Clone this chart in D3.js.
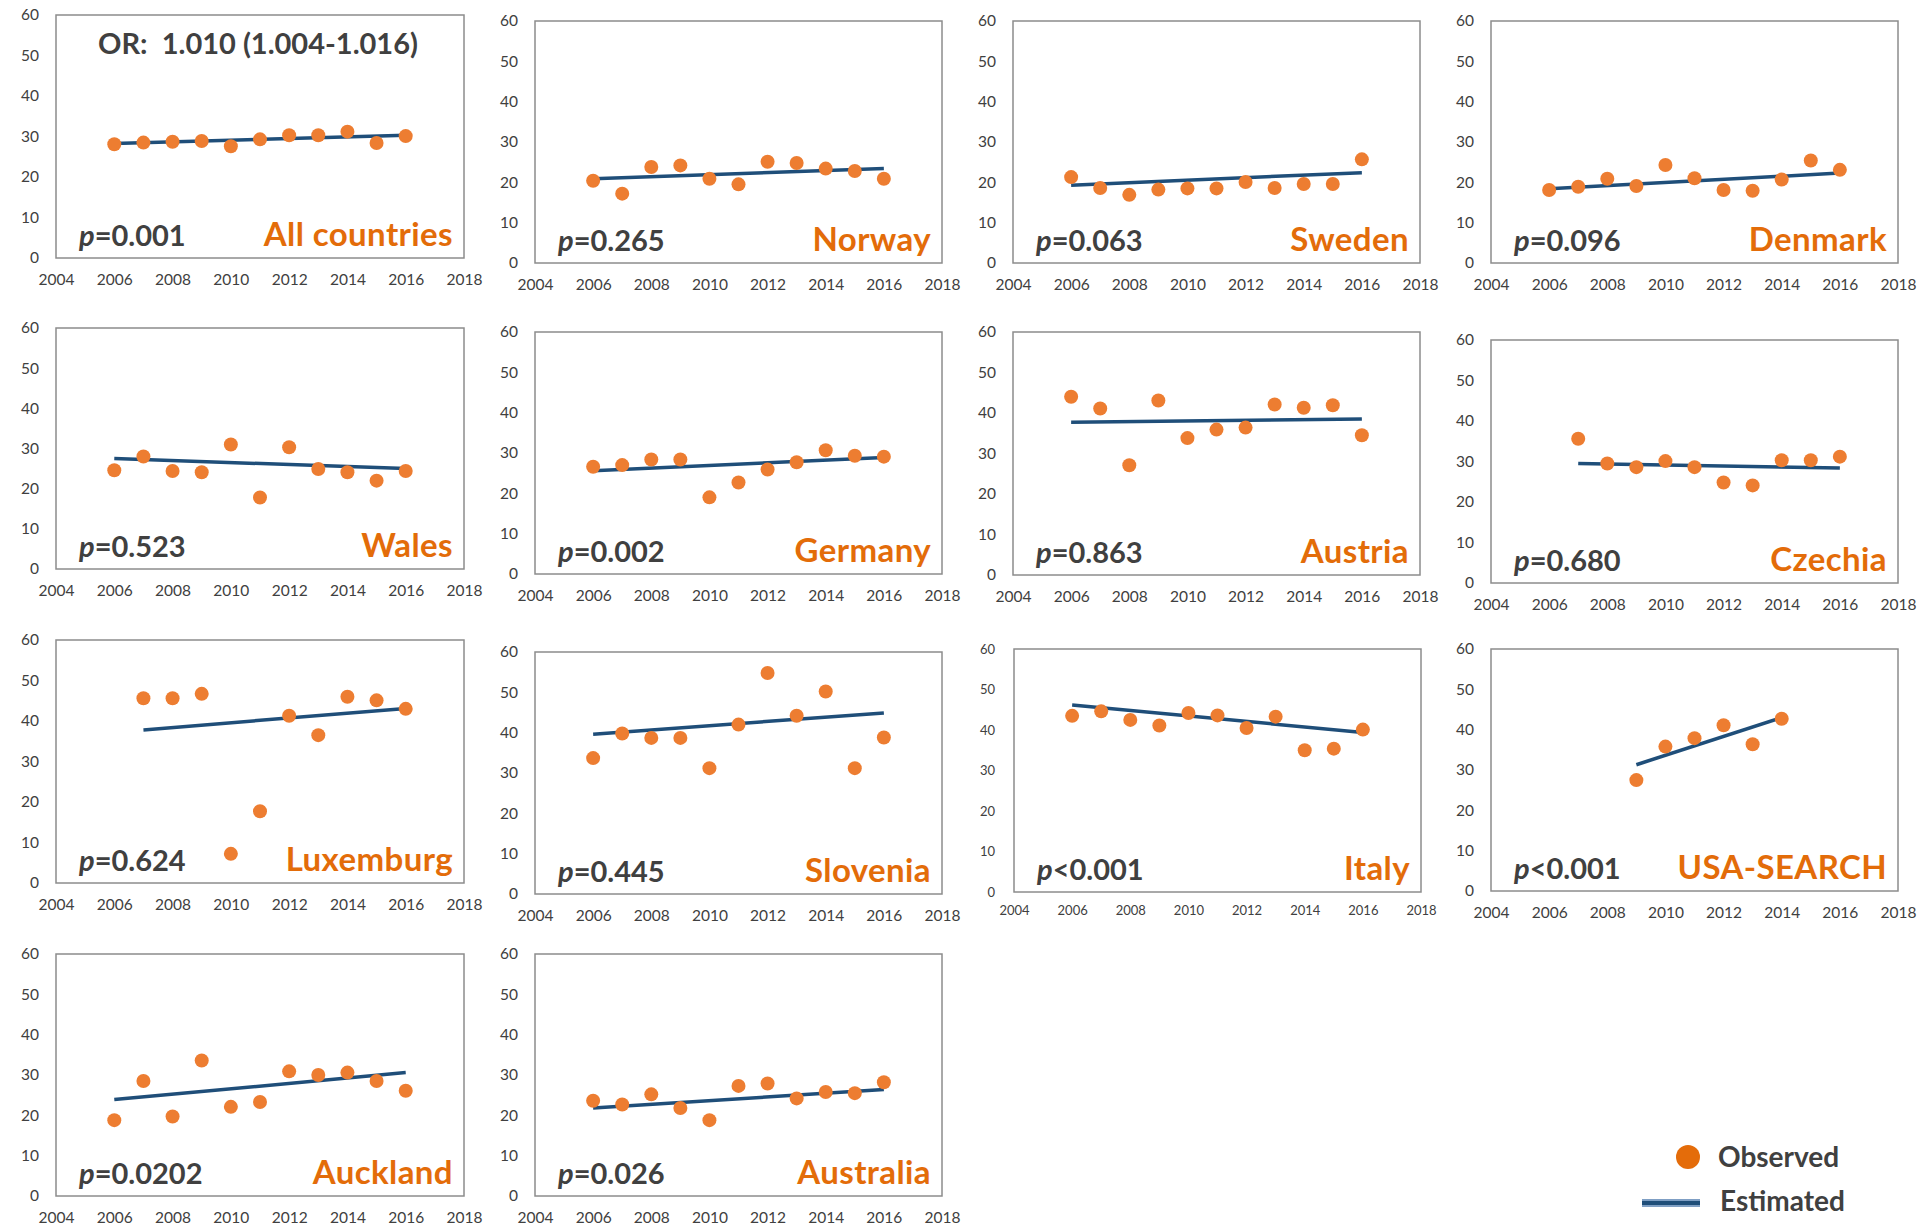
<!DOCTYPE html>
<html>
<head>
<meta charset="utf-8">
<script src="https://cdn.jsdelivr.net/npm/d3@7"></script>
<style>
  body { margin: 0; background: #fff; }
  svg { display: block; font-family: Lato, 'Open Sans', sans-serif; }
</style>
</head>
<body>
<script>
//==============================================================================
// DATA
//==============================================================================

const countries = ['All countries', 'Norway', 'Sweden', 'Denmark', 'Wales', 'Germany', 'Austria',
  'Czechia', 'Luxemburg', 'Slovenia', 'Italy', 'USA-SEARCH', 'Auckland', 'Australia'];
const pSigns = ['=', '=', '=', '=', '=', '=', '=', '=', '=', '=', '<', '<', '=', '='];
const pValues = ['0.001', '0.265', '0.063', '0.096', '0.523', '0.002', '0.863',
  '0.680', '0.624', '0.445', '0.001', '0.001', '0.0202', '0.026'];
const xTicks = [2004, 2006, 2008, 2010, 2012, 2014, 2016, 2018];
const yTicks = [0, 10, 20, 30, 40, 50, 60];

const yearsFull = [2006, 2007, 2008, 2009, 2010, 2011, 2012, 2013, 2014, 2015, 2016];
const yearsFrom2007 = [2007, 2008, 2009, 2010, 2011, 2012, 2013, 2014, 2015, 2016];
const yearsUsa = [2009, 2010, 2011, 2012, 2013, 2014];

// observed values (%)
const obsAll = [28.1, 28.5, 28.7, 28.9, 27.6, 29.3, 30.3, 30.3, 31.2, 28.4, 30.1];
const obsNorway = [20.4, 17.2, 23.8, 24.2, 20.9, 19.5, 25.1, 24.8, 23.4, 22.8, 20.9];
const obsSweden = [21.3, 18.6, 16.9, 18.2, 18.5, 18.5, 20.1, 18.6, 19.6, 19.6, 25.7];
const obsDenmark = [18.1, 18.9, 20.9, 19.1, 24.3, 21.0, 18.1, 17.9, 20.7, 25.4, 23.1];
const obsWales = [24.6, 28.0, 24.4, 24.1, 31.0, 17.8, 30.3, 24.9, 24.1, 22.0, 24.4];
const obsGermany = [26.6, 27.0, 28.4, 28.4, 19.0, 22.7, 25.9, 27.7, 30.7, 29.3, 29.1];
const obsAustria = [44.0, 41.1, 27.1, 43.1, 33.8, 35.9, 36.4, 42.1, 41.3, 41.9, 34.5];
const obsCzechia = [35.6, 29.5, 28.6, 30.1, 28.6, 24.8, 24.1, 30.3, 30.3, 31.2];
const obsLuxemburg = [45.6, 45.6, 46.7, 7.2, 17.7, 41.3, 36.5, 46.0, 45.1, 43.0];
const obsSlovenia = [33.7, 39.8, 38.7, 38.7, 31.2, 42.0, 54.8, 44.2, 50.2, 31.2, 38.8];
const obsItaly = [43.5, 44.6, 42.5, 41.1, 44.2, 43.6, 40.5, 43.3, 35.0, 35.4, 40.1];
const obsUsa = [27.5, 35.8, 37.9, 41.1, 36.4, 42.7];
const obsAuckland = [18.8, 28.5, 19.7, 33.6, 22.1, 23.3, 30.9, 30.0, 30.6, 28.5, 26.1];
const obsAustralia = [23.6, 22.7, 25.2, 21.8, 18.8, 27.3, 27.9, 24.2, 25.8, 25.5, 28.2];

// estimated trend, first and last year (%)
const estAll = [28.3, 30.3];
const estNorway = [20.9, 23.4];
const estSweden = [19.3, 22.4];
const estDenmark = [18.4, 22.3];
const estWales = [27.5, 25.0];
const estGermany = [25.6, 28.9];
const estAustria = [37.7, 38.5];
const estCzechia = [29.5, 28.4];
const estLuxemburg = [37.8, 43.1];
const estSlovenia = [39.6, 44.9];
const estItaly = [46.2, 39.4];
const estUsa = [31.3, 43.0];
const estAuckland = [23.9, 30.6];
const estAustralia = [21.8, 26.4];

const observed = [obsAll, obsNorway, obsSweden, obsDenmark, obsWales, obsGermany, obsAustria,
  obsCzechia, obsLuxemburg, obsSlovenia, obsItaly, obsUsa, obsAuckland, obsAustralia];
const estimated = [estAll, estNorway, estSweden, estDenmark, estWales, estGermany, estAustria,
  estCzechia, estLuxemburg, estSlovenia, estItaly, estUsa, estAuckland, estAustralia];
const years = [yearsFull, yearsFull, yearsFull, yearsFull, yearsFull, yearsFull, yearsFull,
  yearsFrom2007, yearsFrom2007, yearsFull, yearsFull, yearsUsa, yearsFull, yearsFull];

//==============================================================================
// LAYOUT
//==============================================================================

// plot frames: [left, top, right, bottom]
const frames = [
  [56, 15, 464, 258], [535, 21, 942, 263], [1013, 21, 1420, 263], [1491, 21, 1898, 263],
  [56, 328, 464, 569], [535, 332, 942, 574], [1013, 332, 1420, 575], [1491, 340, 1898, 583],
  [56, 640, 464, 883], [535, 652, 942, 894], [1014, 649, 1421, 892], [1491, 649, 1898, 891],
  [56, 954, 464, 1196], [535, 954, 942, 1196]
];

const orange = '#ed7d31';
const labelOrange = '#e36c09';
const blue = '#1f4e79';
const textGrey = '#404040';

const svg = d3.select('body').append('svg')
  .attr('width', 1917)
  .attr('height', 1227);

//==============================================================================
// DRAW
//==============================================================================

countries.forEach((name, i) => {
  const [l, t, r, b] = frames[i];
  const small = name === 'Italy';

  const x = d3.scaleLinear().domain([2004, 2018]).range([l, r]);
  const y = d3.scaleLinear().domain([0, 60]).range([b, t]);

  const g = svg.append('g');

  // frame
  g.append('rect')
    .attr('x', l).attr('y', t)
    .attr('width', r - l).attr('height', b - t)
    .attr('fill', 'none')
    .attr('stroke', '#8c8c8c')
    .attr('stroke-width', 1.5);

  // axes
  const xAxis = g.append('g')
    .attr('transform', `translate(0,${b})`)
    .call(d3.axisBottom(x).tickValues(xTicks).tickFormat(d3.format('d')).tickSize(0).tickPadding(small ? 14 : 16));
  const yAxis = g.append('g')
    .attr('transform', `translate(${l},0)`)
    .call(d3.axisLeft(y).tickValues(yTicks).tickSize(0).tickPadding(small ? 19 : 17));
  [xAxis, yAxis].forEach(a => {
    a.select('.domain').remove();
    a.selectAll('text')
      .attr('fill', textGrey)
      .style('font-family', 'Lato, sans-serif')
      .style('font-size', small ? '13px' : '15.5px');
  });

  // estimated trend
  const yrs = years[i];
  const est = estimated[i];
  g.append('line')
    .attr('x1', x(yrs[0])).attr('y1', y(est[0]))
    .attr('x2', x(yrs[yrs.length - 1])).attr('y2', y(est[1]))
    .attr('stroke', blue)
    .attr('stroke-width', 3.5);

  // observed dots
  g.selectAll('.dot')
    .data(observed[i].map((v, k) => ({ year: yrs[k], value: v })))
    .enter()
    .append('circle')
    .attr('class', 'dot')
    .attr('cx', d => x(d.year))
    .attr('cy', d => y(d.value))
    .attr('r', 7)
    .attr('fill', orange);

  // p value
  const pt = g.append('text')
    .attr('x', l + 23)
    .attr('y', b - 12)
    .attr('fill', textGrey)
    .style('font-size', '29px')
    .style('font-weight', 700);
  pt.append('tspan').style('font-style', 'italic').text('p');
  pt.append('tspan').text(pSigns[i] + pValues[i]);

  // country label
  g.append('text')
    .attr('x', r - 11)
    .attr('y', b - 12)
    .attr('text-anchor', 'end')
    .attr('fill', labelOrange)
    .style('font-size', '33px')
    .style('letter-spacing', '0.4px')
    .style('font-weight', 700)
    .text(name);

  if (i === 0) {
    g.append('text')
      .attr('x', (l + r) / 2 - 2)
      .attr('y', t + 39)
      .attr('text-anchor', 'middle')
      .attr('fill', textGrey)
      .style('font-size', '29px')
      .style('font-weight', 700)
      .attr('xml:space', 'preserve')
      .text('OR:  1.010 (1.004-1.016)');
  }
});

// legend
const legend = svg.append('g');
legend.append('circle')
  .attr('cx', 1688).attr('cy', 1157).attr('r', 12)
  .attr('fill', '#e46c0a');
legend.append('text')
  .attr('x', 1718).attr('y', 1167)
  .attr('fill', textGrey)
  .style('font-size', '28px')
  .style('font-weight', 700)
  .text('Observed');
legend.append('line')
  .attr('x1', 1642).attr('x2', 1700)
  .attr('y1', 1203).attr('y2', 1203)
  .attr('stroke', '#7f9fc4')
  .attr('stroke-width', 8);
legend.append('line')
  .attr('x1', 1642).attr('x2', 1700)
  .attr('y1', 1203).attr('y2', 1203)
  .attr('stroke', blue)
  .attr('stroke-width', 4);
legend.append('text')
  .attr('x', 1720).attr('y', 1211)
  .attr('fill', textGrey)
  .style('font-size', '28px')
  .style('font-weight', 700)
  .text('Estimated');
</script>
</body>
</html>
